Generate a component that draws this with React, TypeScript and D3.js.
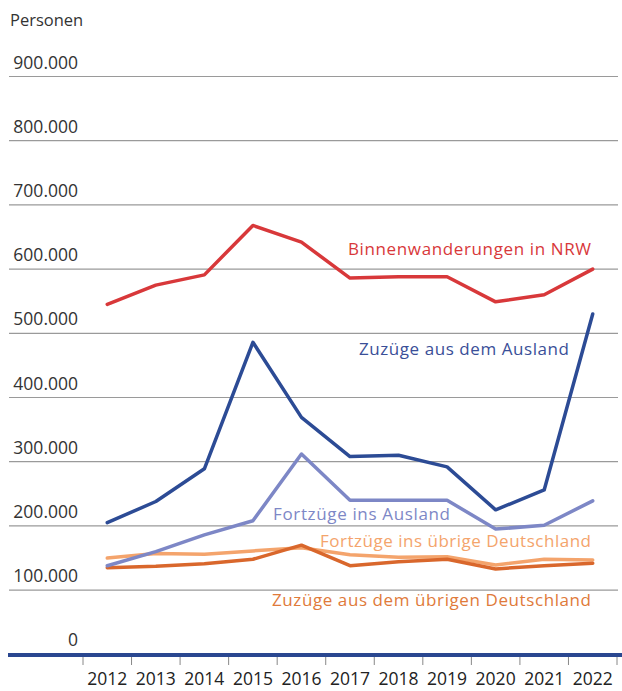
import React from "react";
import * as d3 from "d3";

const years = ["2012","2013","2014","2015","2016","2017","2018","2019","2020","2021","2022"];
const binnenNRW = [545000,575000,591000,668000,642000,586000,588000,588000,549000,560000,600000];
const zuzuegeAusland = [205000,238000,289000,486000,369000,308000,310000,292000,225000,256000,530000];
const fortzuegeAusland = [138000,160000,186000,208000,312000,240000,240000,240000,195000,201000,239000];
const fortzuegeDeutschland = [150000,157000,156000,161000,166000,155000,151000,152000,139000,148000,147000];
const zuzuegeDeutschland = [135000,137000,141000,148000,170000,138000,144000,148000,133000,138000,142000];
const yTicks = [0,100000,200000,300000,400000,500000,600000,700000,800000,900000];

const series = [
  { name: "Fortzüge ins übrige Deutschland", values: fortzuegeDeutschland, color: "#f4a46c" },
  { name: "Zuzüge aus dem übrigen Deutschland", values: zuzuegeDeutschland, color: "#d9672c" },
  { name: "Fortzüge ins Ausland", values: fortzuegeAusland, color: "#7d87c6" },
  { name: "Zuzüge aus dem Ausland", values: zuzuegeAusland, color: "#2c4b95" },
  { name: "Binnenwanderungen in NRW", values: binnenNRW, color: "#d8383a" },
];

const labels = [
  { text: "Binnenwanderungen in NRW", x: 348, y: 255, w: 243, color: "#d8383a" },
  { text: "Zuzüge aus dem Ausland", x: 359, y: 355, w: 210, color: "#3a4f98" },
  { text: "Fortzüge ins Ausland", x: 273, y: 520, w: 177, color: "#7d87c6" },
  { text: "Fortzüge ins übrige Deutschland", x: 320, y: 547, w: 271, color: "#f4a46c" },
  { text: "Zuzüge aus dem übrigen Deutschland", x: 272, y: 606, w: 319, color: "#e07a3a" },
];

export default function App() {
  const W = 622, H = 691;
  const x = d3.scaleBand<string>().domain(years).range([83, 617]).padding(0);
  const y = d3.scaleLinear().domain([0, 900000]).range([654.3, 76.5]);
  const line = d3.line<number>()
    .x((_, i) => (x(years[i]) as number) + x.bandwidth() / 2)
    .y((d) => y(d));
  const font = "'Open Sans', 'Noto Sans', sans-serif";
  const tickXs = years.map((yr) => x(yr) as number).concat([617]);
  return (
    <svg width={W} height={H} style={{ position: "absolute", left: 0, top: 0, background: "#fff" }} fontFamily={font}>
      <text x={10} y={26} fontSize={16.5} fill="#333">Personen</text>
      {yTicks.filter((t) => t > 0).map((t) => (
        <line key={t} x1={9} x2={618} y1={y(t)} y2={y(t)} stroke="#9a9a9a" strokeWidth={1.2} />
      ))}
      {yTicks.map((t) => (
        <text key={"l" + t} x={78} y={y(t) - 8} fontSize={17.5} fill="#333" textAnchor="end">
          {d3.format(",")(t).replace(/,/g, ".")}
        </text>
      ))}
      {tickXs.map((tx, i) => (
        <line key={"t" + i} x1={tx} x2={tx} y1={656} y2={665} stroke="#888" strokeWidth={1} />
      ))}
      <line x1={8} x2={622} y1={655} y2={655} stroke="#2a4790" strokeWidth={4} />
      {years.map((yr) => (
        <text key={yr} x={(x(yr) as number) + x.bandwidth() / 2} y={685} fontSize={17.5} fill="#222" textAnchor="middle">{yr}</text>
      ))}
      {series.map((s) => (
        <path key={s.name} d={line(s.values) || ""} fill="none" stroke={s.color} strokeWidth={3.5} strokeLinejoin="round" strokeLinecap="round" />
      ))}
      {labels.map((l) => (
        <text key={l.text} x={l.x} y={l.y} fontSize={17} fill={l.color} textLength={l.w} lengthAdjust="spacing">{l.text}</text>
      ))}
    </svg>
  );
}
